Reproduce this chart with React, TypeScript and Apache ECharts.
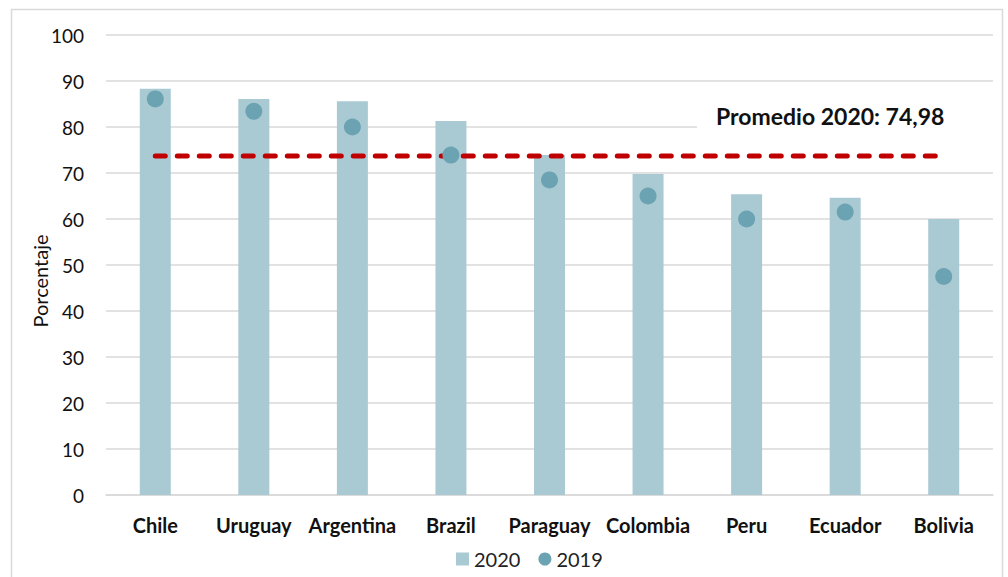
import React, { useEffect, useRef } from "react";
import * as echarts from "echarts";

const categories = ["Chile", "Uruguay", "Argentina", "Brazil", "Paraguay", "Colombia", "Peru", "Ecuador", "Bolivia"];
const values2020 = [88.3, 86.1, 85.6, 81.3, 73.9, 69.8, 65.4, 64.6, 60.0];
const values2019 = [86.1, 83.4, 80.0, 73.9, 68.5, 65.0, 60.0, 61.5, 47.5];
const averageLine = [73.7, 73.7, 73.7, 73.7, 73.7, 73.7, 73.7, 73.7, 73.7];
const averageLabel = "Promedio 2020: 74,98";
const yAxisTitle = "Porcentaje";
const yTicks = { min: 0, max: 100, interval: 10 };

const FONT = "Lato, 'Open Sans', sans-serif";

export default function App() {
  const ref = useRef<HTMLDivElement>(null);
  useEffect(() => {
    if (!ref.current) return;
    const chart = echarts.init(ref.current, undefined, { renderer: "svg" });
    chart.setOption({
      animation: false,
      backgroundColor: "#ffffff",
      textStyle: { fontFamily: FONT },
      grid: { left: 106, right: 15, top: 35, bottom: 82, containLabel: false },
      legend: {
        data: [
          { name: "2020", icon: "rect" },
          { name: "2019", icon: "circle" },
        ],
        bottom: 3,
        left: 451,
        itemWidth: 13,
        itemHeight: 13,
        itemGap: 18,
        textStyle: { fontSize: 20, color: "#222", fontFamily: FONT },
      },
      xAxis: {
        type: "category",
        data: categories,
        axisLine: { lineStyle: { color: "#d9d9d9", width: 1.5 } },
        axisTick: { show: false },
        axisLabel: { interval: 0, fontSize: 20, fontWeight: "bold", color: "#111", margin: 20, fontFamily: FONT },
      },
      yAxis: {
        type: "value",
        min: yTicks.min,
        max: yTicks.max,
        interval: yTicks.interval,
        axisLine: { show: false },
        axisTick: { show: false },
        axisLabel: { fontSize: 19, color: "#111", margin: 22, fontFamily: FONT },
        splitLine: { lineStyle: { color: "#d9d9d9", width: 1.5 } },
      },
      graphic: [
        {
          type: "rect",
          left: 9,
          top: 7,
          shape: { width: 991, height: 580 },
          style: { fill: "none", stroke: "#d9d9d9", lineWidth: 1.5 },
          silent: true,
          z: -10,
        },
        {
          type: "text",
          x: 40,
          y: 281,
          rotation: Math.PI / 2,
          style: {
            text: yAxisTitle,
            fontSize: 20,
            fill: "#111",
            fontFamily: FONT,
            align: "center",
            verticalAlign: "middle",
          },
        },
        {
          type: "rect",
          left: 697,
          top: 100,
          shape: { width: 300, height: 36 },
          style: { fill: "#ffffff" },
          z: 5,
        },
        {
          type: "text",
          x: 716,
          y: 116,
          style: {
            text: averageLabel,
            fontSize: 23,
            fontWeight: "bold",
            fill: "#111",
            fontFamily: FONT,
            verticalAlign: "middle",
          },
          z: 6,
        },
      ],
      series: [
        {
          name: "2020",
          type: "bar",
          data: values2020,
          barWidth: 31,
          itemStyle: { color: "#a9cad3" },
          z: 2,
        },
        {
          name: "2019",
          type: "scatter",
          data: values2019,
          symbol: "circle",
          symbolSize: 17,
          itemStyle: { color: "#6ba3b2", opacity: 1 },
          z: 4,
        },
        {
          name: "Promedio",
          type: "line",
          data: averageLine,
          symbol: "none",
          lineStyle: { color: "#c00000", width: 5, type: [10, 12], cap: "round" },
          z: 3,
        },
      ],
    });
    return () => chart.dispose();
  }, []);
  return <div ref={ref} style={{ position: "absolute", left: 0, top: 0, width: 1008, height: 577 }} />;
}
